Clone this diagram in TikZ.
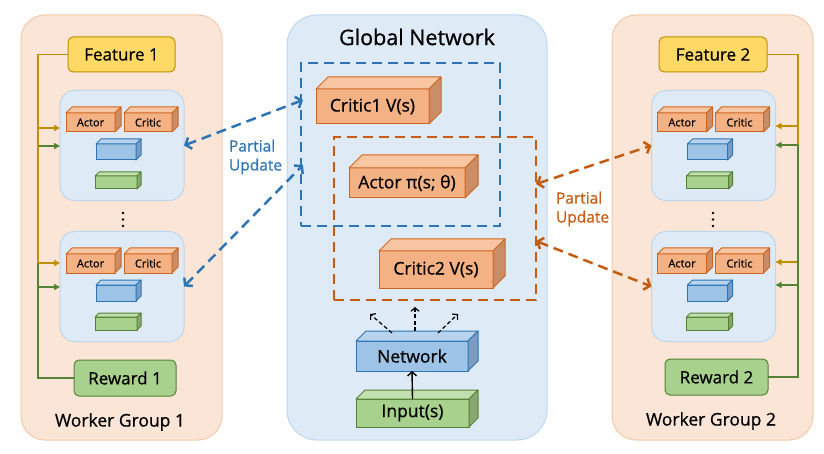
\documentclass[tikz,border=0pt]{standalone}
\usepackage{fontspec}
\setmainfont{Open Sans}[FakeBold=0.7]
\usetikzlibrary{arrows.meta}
\definecolor{peach}{HTML}{FBE5D6}
\definecolor{peachline}{HTML}{F6C9AA}
\definecolor{lblue}{HTML}{DEEBF7}
\definecolor{lblueline}{HTML}{BDD7EE}
\definecolor{featfill}{HTML}{FFD966}
\definecolor{featline}{HTML}{BF9000}
\definecolor{rewfill}{HTML}{A9D18E}
\definecolor{rewline}{HTML}{548235}
\definecolor{ofront}{HTML}{F4B183}
\definecolor{otop}{HTML}{F8C6A2}
\definecolor{oside}{HTML}{C98E68}
\definecolor{oline}{HTML}{D0651E}
\definecolor{bfront}{HTML}{9DC3E6}
\definecolor{btop}{HTML}{B8D3EE}
\definecolor{bside}{HTML}{7B9CC0}
\definecolor{bline}{HTML}{2E75B6}
\definecolor{gfront}{HTML}{A9D18E}
\definecolor{gtop}{HTML}{C3DFB0}
\definecolor{gside}{HTML}{88A872}
\definecolor{gline}{HTML}{548235}
\definecolor{dblue}{HTML}{2E75B6}
\definecolor{dorange}{HTML}{C55A11}
\tikzset{
  grp/.style={rounded corners=24pt, fill=peach, draw=peachline, line width=1pt, inner sep=0, outer sep=0},
  gbox/.style={rounded corners=30pt, fill=lblue, draw=lblueline, line width=1pt, inner sep=0, outer sep=0},
  inbox/.style={rounded corners=15pt, fill=lblue, draw=lblueline, line width=1pt, inner sep=0, outer sep=0},
  featbox/.style={rounded corners=5pt, fill=featfill, draw=featline, line width=1pt, inner sep=0, outer sep=0, font=\fontsize{17}{17}\selectfont},
  rewbox/.style={rounded corners=5pt, fill=rewfill, draw=rewline, line width=1pt, inner sep=0, outer sep=0, font=\fontsize{17}{17}\selectfont},
  ofront/.style={draw=oline, fill=ofront, line width=1pt, inner sep=0, outer sep=0},
  otop/.style={draw=oline, fill=otop, line width=1pt, line join=round},
  oside/.style={draw=oline, fill=oside, line width=1pt, line join=round},
  bfront/.style={draw=bline, fill=bfront, line width=1pt, inner sep=0, outer sep=0},
  btop/.style={draw=bline, fill=btop, line width=1pt, line join=round},
  bside/.style={draw=bline, fill=bside, line width=1pt, line join=round},
  gfront/.style={draw=gline, fill=gfront, line width=1pt, inner sep=0, outer sep=0},
  gtop/.style={draw=gline, fill=gtop, line width=1pt, line join=round},
  gside/.style={draw=gline, fill=gside, line width=1pt, line join=round},
  featln/.style={draw=featline, line width=1.6pt},
  rewln/.style={draw=rewline, line width=1.6pt},
  tri/.style={-{Triangle[length=6pt,width=6pt]}},
  bdash/.style={draw=dblue, line width=2.5pt, dash pattern=on 10pt off 6pt},
  odash/.style={draw=dorange, line width=2.5pt, dash pattern=on 10pt off 6pt},
  barbs/.style={{Straight Barb[length=5pt,width=12pt]}-{Straight Barb[length=5pt,width=12pt]}},
  kdash/.style={draw=black, line width=1.2pt, dash pattern=on 4pt off 2.5pt, -{Straight Barb[length=3.5pt,width=8pt]}},
  ksolid/.style={draw=black, line width=1.4pt, -{Straight Barb[length=4pt,width=9pt]}},
  lbl/.style={inner sep=0, outer sep=0},
  dot/.style={fill=black, circle, inner sep=0, minimum size=2.6pt},
}
% name, x, y, w, h, depth, kind, fontsize, text
\newcommand\cubo[9]{%
  \node[#7front, minimum width=#4pt, minimum height=#5pt, font=\fontsize{#8}{#8}\selectfont] (#1) at (#2,#3) {#9};
  \draw[#7top] (#1.north west) -- ++(#6pt,#6pt) -- ([shift={(#6pt,#6pt)}]#1.north east) -- (#1.north east) -- cycle;
  \draw[#7side] (#1.north east) -- ++(#6pt,#6pt) -- ([shift={(#6pt,#6pt)}]#1.south east) -- (#1.south east) -- cycle;
}
\newcommand\worker[3]{% prefix, center x of inner box, center y
  \node[inbox, minimum width=124pt, minimum height=110pt] (#1box) at (#2,#3) {};
  \cubo{#1act}{#2-31.5}{#3-23}{49}{19}{6}{o}{11}{Actor}
  \cubo{#1cri}{#2+26}{#3-23}{48}{19}{6}{o}{11}{Critic}
  \cubo{#1blu}{#2-6}{#3+6.5}{40}{16}{5}{b}{8}{}
  \cubo{#1grn}{#2-6}{#3+37}{42}{13}{4}{g}{8}{}
}
\begin{document}
\begin{tikzpicture}[x=1pt,y=-1pt]
\useasboundingbox (0,0) rectangle (824,454);
% group boxes
\node[grp, minimum width=201pt, minimum height=425pt] (wg1) at (121.5,227.5) {};
\node[grp, minimum width=201pt, minimum height=425pt] (wg2) at (712.5,227.5) {};
\node[gbox, minimum width=260pt, minimum height=425pt] (gn) at (417,227.5) {};
\node[lbl, font=\fontsize{21.5}{21.5}\selectfont] (gntitle) at (417,37) {Global Network};
\node[lbl, font=\fontsize{17.5}{17.5}\selectfont] (wg1t) at (120,422) {Worker Group 1};
\node[lbl, font=\fontsize{17.5}{17.5}\selectfont] (wg2t) at (711,421) {Worker Group 2};
% features and rewards
\node[featbox, minimum width=107pt, minimum height=35pt] (feat1) at (121.5,54.5) {Feature 1};
\node[featbox, minimum width=108pt, minimum height=35pt] (feat2) at (713,54.5) {Feature 2};
\node[rewbox, minimum width=102pt, minimum height=36pt] (rew1) at (125,378) {Reward 1};
\node[rewbox, minimum width=103pt, minimum height=36pt] (rew2) at (716.5,377) {Reward 2};
% workers
\worker{la}{122}{145.5}
\worker{lb}{122}{286.5}
\worker{ra}{713.5}{145.5}
\worker{rb}{713.5}{286.5}
\foreach \yy [count=\i] in {213,219.5,226} {
  \node[dot] (ld\i) at (123,\yy) {};
  \node[dot] (rd\i) at (713,\yy) {};
}
% left bus
\coordinate (lg1) at (38,128);
\coordinate (lg2) at (38,263);
\coordinate (lr1) at (38,146);
\coordinate (lr2) at (38,287);
\draw[rewln] (rew1.west) -| (lr1);
\draw[rewln,tri] (lr1) -- (lr1 -| labox.west);
\draw[rewln,tri] (lr2) -- (lr2 -| lbbox.west);
\draw[featln] (feat1.west) -| (lg2);
\draw[featln,tri] (lg1) -- (lg1 -| labox.west);
\draw[featln,tri] (lg2) -- (lg2 -| lbbox.west);
% right bus
\coordinate (rg1) at (798,126);
\coordinate (rg2) at (798,262);
\coordinate (rr1) at (798,145);
\coordinate (rr2) at (798,285);
\draw[featln] (feat2.east) -| (rg2);
\draw[featln,tri] (rg1) -- (rg1 -| rabox.east);
\draw[featln,tri] (rg2) -- (rg2 -| rbbox.east);
\draw[rewln] (rew2.east) -| (rr1);
\draw[rewln,tri] (rr1) -- (rr1 -| rabox.east);
\draw[rewln,tri] (rr2) -- (rr2 -| rbbox.east);
% global network blocks
\cubo{crit1}{372.5}{106.5}{113}{35}{12}{o}{17.5}{Critic1 V(s)}
\cubo{actor}{407}{183}{116}{30}{13}{o}{17.5}{Actor π(s; θ)}
\cubo{crit2}{436}{269.5}{114}{37}{12}{o}{17.5}{Critic2 V(s)}
\cubo{net}{412}{356}{112}{30}{10}{b}{17.5}{Network}
\cubo{inp}{412.5}{413}{113}{28}{9}{g}{17.5}{Input(s)}
% dashed regions
\node[odash, minimum width=202pt, minimum height=163pt, inner sep=0, outer sep=0] (oreg) at (435,218.5) {};
\node[bdash, minimum width=199pt, minimum height=163pt, inner sep=0, outer sep=0] (breg) at (400.5,144.5) {};
% network arrows
\draw[ksolid] (inp.north) -- (net.south);
\coordinate (n1s) at (392,333);
\coordinate (n1e) at (370,314);
\coordinate (n2s) at (415,331);
\coordinate (n2e) at (415,307);
\coordinate (n3s) at (438,333);
\coordinate (n3e) at (458,314);
\draw[kdash] (n1s) -- (n1e);
\draw[kdash] (n2s) -- (n2e);
\draw[kdash] (n3s) -- (n3e);
% partial updates
\coordinate (bp1) at (303,100);
\coordinate (bp2) at (303,165);
\coordinate (op1) at (536,184);
\coordinate (op2) at (536,241);
\draw[bdash,barbs] (labox.east) -- (bp1);
\draw[bdash,barbs] (lbbox.east) -- (bp2);
\draw[odash,barbs] (op1) -- (rabox.west);
\draw[odash,barbs] (op2) -- (rbbox.west);
\node[lbl, anchor=west, align=left, text=dblue, font=\fontsize{15.5}{19}\selectfont] (pu1) at (229,157) {Partial\\Update};
\node[lbl, anchor=west, align=left, text=dorange, font=\fontsize{15.5}{19}\selectfont] (pu2) at (556,209) {Partial\\Update};
\end{tikzpicture}
\end{document}
